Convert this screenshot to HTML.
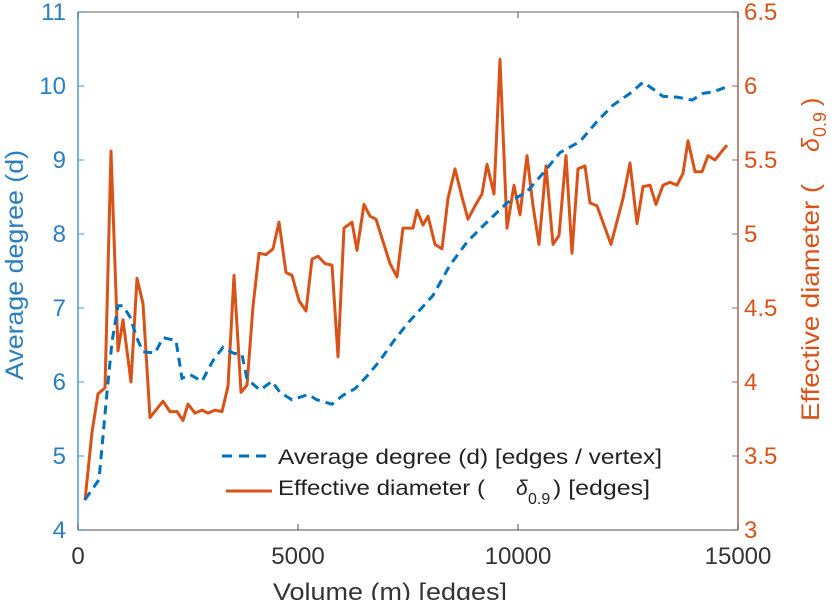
<!DOCTYPE html>
<html><head><meta charset="utf-8"><style>
body{margin:0;background:#fff;}
svg{display:block;font-family:"Liberation Sans",sans-serif;}
</style></head><body>
<svg id="chart" width="838" height="600">
<g id="axes"></g>
<g id="series"></g>
<g id="legend">
  <line x1="222" y1="456" x2="268" y2="456" stroke="#0072BD" stroke-width="3" stroke-dasharray="10,7"/>
  <text x="278" y="464" font-size="21" textLength="384" lengthAdjust="spacingAndGlyphs" fill="#222">Average degree (d) [edges / vertex]</text>
  <line x1="226" y1="491" x2="272" y2="491" stroke="#D95319" stroke-width="3"/>
  <text x="278" y="495" font-size="21" textLength="207" lengthAdjust="spacingAndGlyphs" fill="#222">Effective diameter (</text>
  <text x="516" y="495" font-size="21" font-style="italic" fill="#222">δ</text>
  <text x="528" y="504" font-size="16" fill="#222">0.9</text>
  <text x="553" y="495" font-size="21" textLength="97" lengthAdjust="spacingAndGlyphs" fill="#222">) [edges]</text>
</g>
</svg>
<script>
const xTicks=[0,5000,10000,15000];
const leftTicks=[4,5,6,7,8,9,10,11];
const rightTicks=[3,3.5,4,4.5,5,5.5,6,6.5];
const rightTickLabels=["3","3.5","4","4.5","5","5.5","6","6.5"];
const degX=[159,477,659,773,909,1023,1182,1341,1477,1750,1932,2227,2364,2545,2818,3068,3295,3523,3727,3841,4136,4409,4591,4864,5227,5432,5773,6023,6295,6568,6864,7159,7500,7705,8068,8455,8841,9205,9750,10205,10568,10955,11409,11795,12159,12545,12841,13068,13295,13614,13955,14205,14432,14705,14818];
const degY=[4.41,4.68,5.86,6.54,7.03,7.03,6.88,6.59,6.41,6.39,6.60,6.56,6.05,6.10,6.01,6.29,6.47,6.39,6.37,6.04,5.89,6.01,5.86,5.76,5.83,5.76,5.70,5.82,5.91,6.08,6.29,6.54,6.80,6.93,7.17,7.58,7.89,8.11,8.42,8.57,8.82,9.10,9.25,9.52,9.74,9.90,10.05,9.96,9.86,9.85,9.81,9.90,9.92,9.98,10.02];
const diaX=[159,318,455,614,750,909,1023,1205,1341,1477,1636,1932,2091,2250,2386,2500,2659,2818,2955,3114,3273,3409,3545,3705,3841,3977,4114,4273,4432,4568,4727,4864,5023,5182,5318,5455,5614,5773,5909,6045,6227,6341,6500,6636,6773,6932,7091,7250,7386,7500,7614,7705,7841,7955,8114,8273,8409,8568,8727,8864,9023,9182,9295,9455,9591,9750,9909,10045,10205,10341,10477,10636,10795,10932,11091,11227,11364,11523,11636,11795,12114,12386,12545,12705,12841,13000,13136,13295,13455,13614,13750,13864,14023,14182,14318,14477,14636,14750];
const diaY=[3.20,3.66,3.92,3.96,5.56,4.21,4.42,4.00,4.70,4.53,3.76,3.87,3.80,3.80,3.74,3.85,3.79,3.81,3.79,3.81,3.80,3.97,4.72,3.93,3.98,4.51,4.87,4.86,4.90,5.08,4.74,4.72,4.55,4.48,4.83,4.85,4.80,4.79,4.17,5.04,5.08,4.89,5.20,5.12,5.10,4.95,4.80,4.71,5.04,5.04,5.04,5.16,5.06,5.12,4.93,4.90,5.24,5.44,5.25,5.10,5.19,5.27,5.47,5.27,6.18,5.04,5.33,5.13,5.53,5.19,4.93,5.46,4.93,4.99,5.53,4.87,5.44,5.46,5.21,5.19,4.93,5.24,5.48,5.07,5.32,5.33,5.20,5.33,5.35,5.33,5.41,5.63,5.42,5.42,5.53,5.50,5.56,5.60];

const L=78,R=738,T=12,B=530;
const sx=v=>L+(v/15000)*(R-L);
const syL=v=>B-(v-4)/7*(B-T);
const syR=v=>B-(v-3)/3.5*(B-T);
const NS='http://www.w3.org/2000/svg';
function mk(tag,attrs,parent,txt){const e=document.createElementNS(NS,tag);for(const k in attrs)e.setAttribute(k,attrs[k]);if(txt!==undefined)e.textContent=txt;parent.appendChild(e);return e;}
const axes=document.getElementById('axes'),series=document.getElementById('series');

let e;
e=mk('line',{x1:L,y1:T,x2:R,y2:T,stroke:'#999','stroke-width':1.5},axes);


e=mk('line',{x1:L,y1:B,x2:R,y2:B,stroke:'#888','stroke-width':1.5},axes);


e=mk('line',{x1:L,y1:T,x2:L,y2:B,stroke:'#4a9ad6','stroke-width':1.5},axes);


e=mk('line',{x1:R,y1:T,x2:R,y2:B,stroke:'#a0675a','stroke-width':1.5},axes);



xTicks.forEach(t=>{
  const x=sx(t);
  let a=mk('line',{x1:x,y1:B,x2:x,y2:B-6,stroke:'#555','stroke-width':1},axes);
  
  
  a=mk('line',{x1:x,y1:T,x2:x,y2:T+6,stroke:'#555','stroke-width':1},axes);
  
  
  a=mk('text',{x:x,y:564,'font-size':24,fill:'#333','text-anchor':'middle'},axes,String(t));
  
  
});
leftTicks.forEach(t=>{
  const y=syL(t);
  let a=mk('line',{x1:L,y1:y,x2:L+6,y2:y,stroke:'#4a9ad6','stroke-width':1},axes);
  
  
  a=mk('text',{x:66,y:y+8,'font-size':24,fill:'#2a7fc0','text-anchor':'end'},axes,String(t));
  
  
});
rightTicks.forEach((t,i)=>{
  const y=syR(t);
  let a=mk('line',{x1:R,y1:y,x2:R-6,y2:y,stroke:'#a0675a','stroke-width':1},axes);
  
  
  a=mk('text',{x:744,y:y+8,'font-size':24,fill:'#D95319'},axes,rightTickLabels[i]);
  
  
});
e=mk('text',{x:273,y:600,'font-size':24,fill:'#333',textLength:234,lengthAdjust:'spacingAndGlyphs'},axes,'Volume (m) [edges]');


e=mk('text',{x:0,y:0,'font-size':25,fill:'#2a7fc0',textLength:230,lengthAdjust:'spacingAndGlyphs',transform:'translate(23,380) rotate(-90)'},axes,'Average degree (d)');


e=mk('text',{x:0,y:0,'font-size':25,fill:'#D95319',textLength:237,lengthAdjust:'spacingAndGlyphs',transform:'translate(819,421) rotate(-90)'},axes,'Effective diameter (');


e=mk('text',{x:0,y:0,'font-size':25,fill:'#D95319','font-style':'italic',transform:'translate(819,152) rotate(-90)'},axes,'δ');


e=mk('text',{x:0,y:0,'font-size':18,fill:'#D95319',transform:'translate(826,137) rotate(-90)'},axes,'0.9');


e=mk('text',{x:0,y:0,'font-size':25,fill:'#D95319',transform:'translate(819,106) rotate(-90)'},axes,')');



let d=diaX.map((v,i)=>(i?'L':'M')+sx(v).toFixed(1)+' '+syR(diaY[i]).toFixed(1)).join(' ');
e=mk('path',{d:d,fill:'none',stroke:'#D95319','stroke-width':3,'stroke-linejoin':'round'},series);


d=degX.map((v,i)=>(i?'L':'M')+sx(v).toFixed(1)+' '+syL(degY[i]).toFixed(1)).join(' ');
e=mk('path',{d:d,fill:'none',stroke:'#0072BD','stroke-width':3,'stroke-dasharray':'9,6'},series);


</script>
</body></html>
